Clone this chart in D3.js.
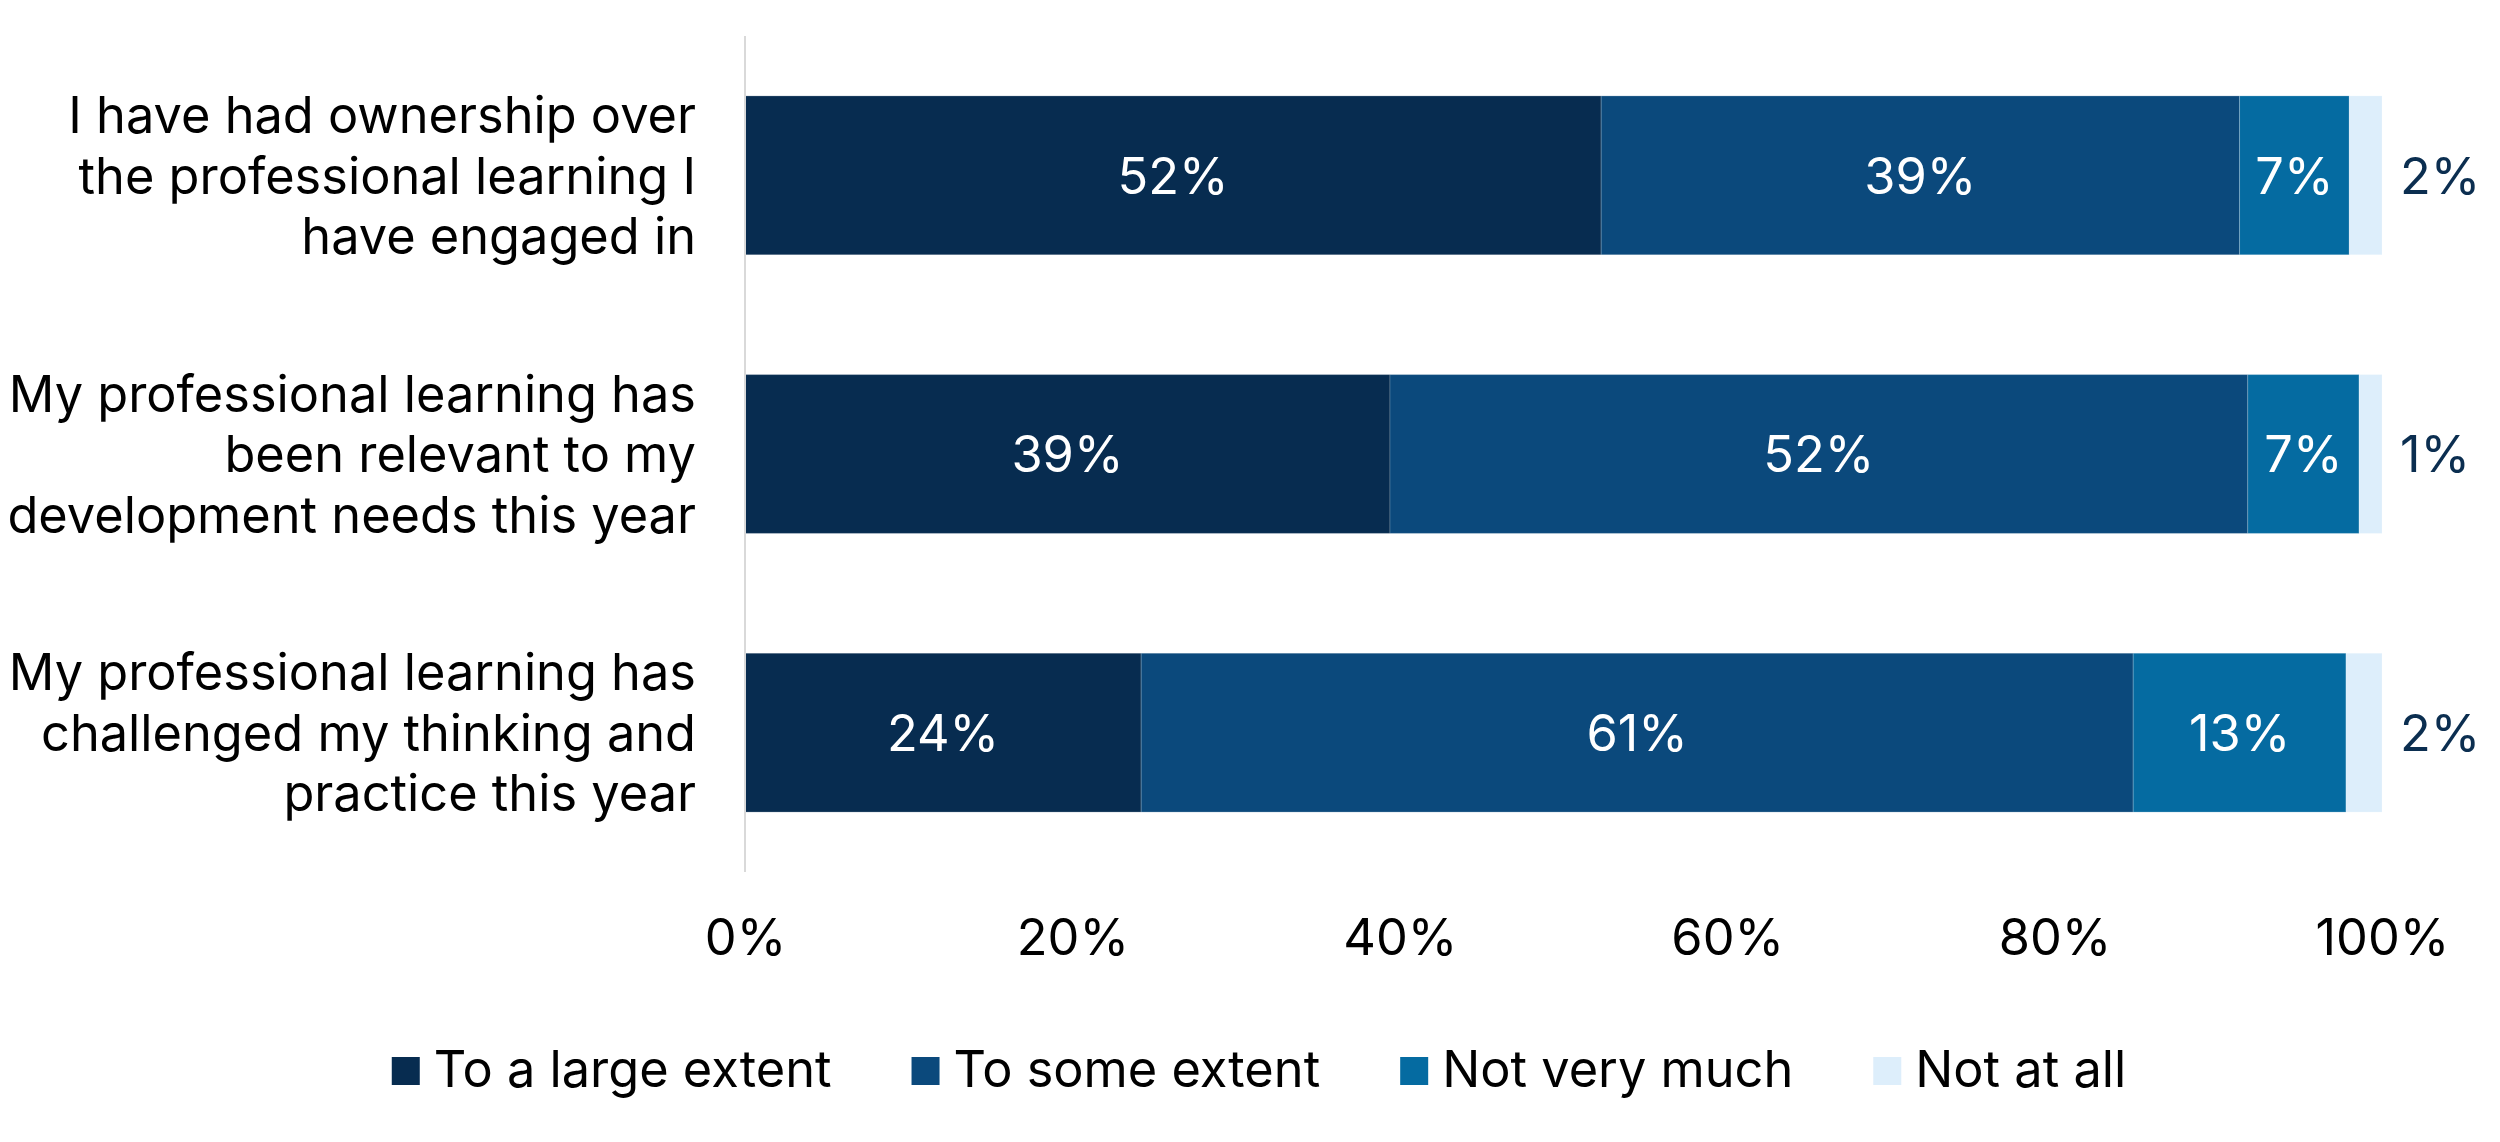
<!DOCTYPE html>
<html>
<head>
<meta charset="utf-8">
<script src="https://cdn.jsdelivr.net/npm/d3@7"></script>
<style>
  body { margin: 0; background: #fff; }
  svg text { font-family: Inter, "Noto Sans", sans-serif; }
</style>
</head>
<body>
<div id="main"></div>
<script>
// statements, each split into the lines shown on the chart
const categories = [
  ["I have had ownership over", "the professional learning I", "have engaged in"],
  ["My professional learning has", "been relevant to my", "development needs this year"],
  ["My professional learning has", "challenged my thinking and", "practice this year"]
];
const seriesNames = ["To a large extent", "To some extent", "Not very much", "Not at all"];
const largeExtent = [52.3, 39.4, 24.2];
const someExtent = [39.0, 52.4, 60.6];
const notVeryMuch = [6.7, 6.8, 13.0];
const notAtAll = [2.0, 1.4, 2.2];
const tickValues = [0, 20, 40, 60, 80, 100];
const colors = ["#072c50", "#0b497c", "#056ba1", "#ddeefb"];

const width = 2500;
const height = 1142;
const fontSize = 50.5;

const keys = categories.map(c => c.join(" "));
const rows = keys.map((k, i) => ({
  key: k,
  [seriesNames[0]]: largeExtent[i],
  [seriesNames[1]]: someExtent[i],
  [seriesNames[2]]: notVeryMuch[i],
  [seriesNames[3]]: notAtAll[i]
}));

const svg = d3.select("#main").append("svg")
  .attr("width", width)
  .attr("height", height);

const x = d3.scaleLinear().domain([0, 100]).range([745, 2382]);
const y = d3.scaleBand().domain(keys).range([36, 872])
  .paddingInner(0.43).paddingOuter(0.215);
const color = d3.scaleOrdinal().domain(seriesNames).range(colors);

const stacked = d3.stack().keys(seriesNames)(rows);

// bars
const layer = svg.append("g").selectAll("g")
  .data(stacked)
  .join("g")
  .attr("fill", d => color(d.key));

layer.selectAll("rect")
  .data(d => d)
  .join("rect")
  .attr("x", d => x(d[0]))
  .attr("y", d => y(d.data.key))
  .attr("width", d => x(d[1]) - x(d[0]))
  .attr("height", y.bandwidth())
  .attr("stroke", "#ffffff")
  .attr("stroke-opacity", 0.2)
  .attr("stroke-width", 1);

// value labels
layer.selectAll("text")
  .data(d => d.map(v => ({ v, series: d.key })))
  .join("text")
  .attr("x", d => d.series === "Not at all" ? x(100) + 18 : (x(d.v[0]) + x(d.v[1])) / 2)
  .attr("y", d => y(d.v.data.key) + y.bandwidth() / 2)
  .attr("dy", "0.36em")
  .attr("text-anchor", d => d.series === "Not at all" ? "start" : "middle")
  .attr("fill", d => d.series === "Not at all" ? "#0b2e50" : "#ffffff")
  .style("font-size", fontSize + "px")
  .text(d => Math.round(d.v[1] - d.v[0]) + "%");

// vertical axis line
svg.append("line")
  .attr("x1", x(0)).attr("x2", x(0))
  .attr("y1", 36).attr("y2", 872)
  .attr("stroke", "#d9d9d9")
  .attr("stroke-width", 2);

// category labels
const catLabel = svg.append("g").selectAll("text")
  .data(categories)
  .join("text")
  .attr("text-anchor", "end")
  .attr("fill", "#000")
  .style("font-size", fontSize + "px")
  .attr("transform", (d, i) => `translate(696,${y(keys[i]) + y.bandwidth() / 2})`);

catLabel.selectAll("tspan")
  .data(d => d)
  .join("tspan")
  .attr("x", 0)
  .attr("y", (d, i) => (i - 1) * 60.5)
  .attr("dy", "0.36em")
  .text(d => d);

// x axis
const xAxis = svg.append("g")
  .attr("transform", "translate(0,872)")
  .call(d3.axisBottom(x).tickValues(tickValues).tickSize(0).tickPadding(47)
    .tickFormat(d => d + "%"));
xAxis.select(".domain").remove();
xAxis.selectAll("text")
  .attr("fill", "#000")
  .style("font-size", fontSize + "px")
  .style("font-family", "Inter, 'Noto Sans', sans-serif");

// legend
const legend = svg.append("g");
const items = legend.selectAll("g")
  .data(seriesNames)
  .join("g");
items.append("rect")
  .attr("width", 28).attr("height", 28)
  .attr("y", -30)
  .attr("fill", d => color(d));
items.append("text")
  .attr("x", 42)
  .attr("fill", "#000")
  .style("font-size", fontSize + "px")
  .text(d => d);

let offset = 0;
items.each(function () {
  const g = d3.select(this);
  g.attr("transform", `translate(${offset},0)`);
  offset += 42 + g.select("text").node().getComputedTextLength() + 80;
});
const total = offset - 80;
legend.attr("transform", `translate(${1259 - total / 2},1087)`);
</script>
</body>
</html>
